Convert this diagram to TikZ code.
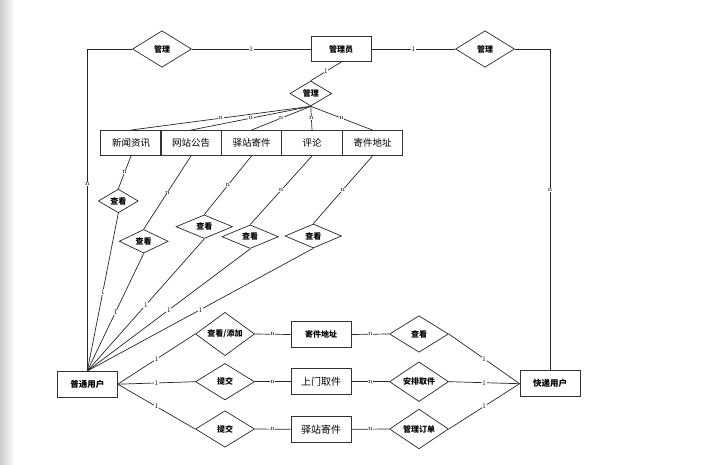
\documentclass[tikz,border=0pt]{standalone}
\usepackage{fontspec}
\newfontfamily\cjk{Noto Sans CJK SC}
\usetikzlibrary{shapes.geometric}
\begin{document}
\begin{tikzpicture}[x=1pt,y=-1pt,
  every node/.style={inner sep=0pt},
  ent/.style={draw=black!80, line width=0.9pt, rectangle, minimum width=60pt, minimum height=25.5pt, font=\cjk\fontsize{9.5}{9.5}\selectfont},
  entb/.style={ent, font=\cjk\bfseries\fontsize{8}{8}\selectfont},
  rel/.style={draw=black!85, line width=0.7pt, diamond, minimum width=59pt, minimum height=36.5pt, font=\cjk\bfseries\fontsize{8}{8}\selectfont},
  lnk/.style={draw=black!85, line width=0.7pt},
  card/.style={fill=white, font=\fontsize{7}{7}\selectfont, inner sep=0.4pt}
]
\useasboundingbox (0,0) rectangle (711,465);
\shade[left color=black!20, right color=white] (0,0) rectangle (15,465);

% top
\node[entb] (admin) at (341,49) {管理员};
\node[rel] (mgL) at (162,49) {管理};
\node[rel] (mgR) at (485,49) {管理};
\node[rel, minimum width=41.7pt, minimum height=25pt] (mgM) at (310.8,93.5) {管理};

% entity row
\node[ent, minimum width=60.5pt, minimum height=25pt] (e1) at (131,143) {新闻资讯};
\node[ent, minimum width=60.5pt, minimum height=25pt] (e2) at (191,143) {网站公告};
\node[ent, minimum width=60.5pt, minimum height=25pt] (e3) at (251.5,143) {驿站寄件};
\node[ent, minimum width=60.5pt, minimum height=25pt] (e4) at (312,143) {评论};
\node[ent, minimum width=60.5pt, minimum height=25pt] (e5) at (372.5,143) {寄件地址};

% view diamonds
\node[rel, minimum width=40pt, minimum height=22.5pt] (v1) at (118.3,201) {查看};
\node[rel, minimum width=49pt, minimum height=19.5pt] (v2) at (143.7,241.3) {查看};
\node[rel, minimum width=56.5pt, minimum height=23pt] (v3) at (204.3,226.7) {查看};
\node[rel, minimum width=56.5pt, minimum height=23pt] (v4) at (250.2,236.7) {查看};
\node[rel, minimum width=56.5pt, minimum height=24pt] (v5) at (313.3,236) {查看};

% users
\node[entb, font=\cjk\bfseries\fontsize{8.5}{8.5}\selectfont] (user) at (87.3,384.2) {普通用户};
\node[entb, font=\cjk\bfseries\fontsize{8.5}{8.5}\selectfont, minimum height=26pt] (cour) at (550,383.7) {快递用户};

% bottom rows
\node[rel] (a1) at (225,334) {查看/添加};
\node[rel] (a2) at (225,381.7) {提交};
\node[rel] (a3) at (225,429) {提交};
\node[entb, minimum height=26pt] (b1) at (321,334.5) {寄件地址};
\node[ent, minimum height=26pt, font=\cjk\fontsize{10}{10}\selectfont] (b2) at (321,381.7) {上门取件};
\node[ent, minimum height=26pt, font=\cjk\fontsize{10}{10}\selectfont] (b3) at (321,429.3) {驿站寄件};
\node[rel] (c1) at (419,334) {查看};
\node[rel] (c2) at (419,381.7) {安排取件};
\node[rel] (c3) at (419,429) {管理订单};

% connectors top
\draw[lnk] (mgL.east) -- node[card]{1} (admin.west);
\draw[lnk] (admin.east) -- node[card]{1} (mgR.west);
\draw[lnk] (mgL.west) -| node[card, pos=0.71]{n} (user.north);
\draw[lnk] (mgR.east) -| node[card, pos=0.72]{n} (cour.north);
\draw[lnk] (admin.south) -- node[card]{1} (mgM.north);
\foreach \e in {e1,e2,e3,e4,e5}
  \draw[lnk] (mgM.south) -- node[card]{n} (\e.north);

% entity to view diamonds
\foreach \e/\v in {e1/v1,e2/v2,e3/v3,e4/v4,e5/v5}{
  \draw[lnk] (\e.south) -- node[card]{n} (\v.north);
  \draw[lnk] (\v.south) -- node[card]{1} (user.north);
}

% bottom
\foreach \i in {1,2,3}{
  \draw[lnk] (user.east) -- node[card]{1} (a\i.west);
  \draw[lnk] (a\i.east) -- node[card]{n} (b\i.west);
  \draw[lnk] (b\i.east) -- node[card]{n} (c\i.west);
  \draw[lnk] (c\i.east) -- node[card]{1} (cour.west);
}
\end{tikzpicture}
\end{document}
